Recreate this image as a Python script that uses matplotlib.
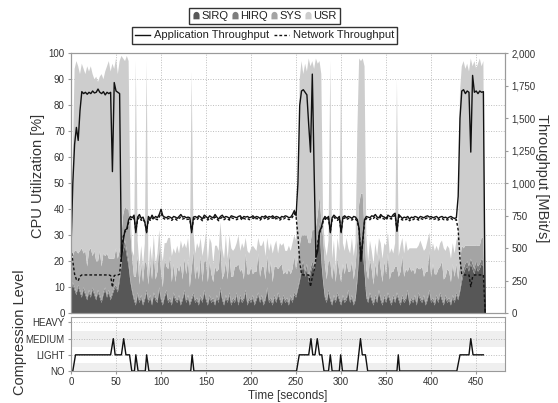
import numpy as np
import matplotlib
matplotlib.use("Agg")
import matplotlib.pyplot as plt
from matplotlib.lines import Line2D
from matplotlib.path import Path
from matplotlib.ticker import FuncFormatter

plt.rcParams['font.family'] = ['Liberation Sans', 'DejaVu Sans']

# ---------------- data ----------------
time_s = np.arange(0, 461, 2)

cpu_labels = ['SIRQ', 'HIRQ', 'SYS', 'USR']
cpu_colors = ['#575757', '#7d7d7d', '#a4a4a4', '#cdcdcd']

sirq = [
    8, 11, 9, 7, 10, 8, 6, 9, 7, 5,
    8, 6, 9, 7, 5, 8, 6, 4, 7, 9,
    6, 8, 5, 7, 9, 10, 8, 12, 18, 24,
    26, 22, 18, 12, 8, 5, 3, 7, 4, 6,
    3, 5, 8, 4, 6, 3, 7, 5, 4, 9,
    5, 3, 6, 8, 4, 5, 3, 7, 5, 4,
    6, 3, 5, 8, 4, 6, 3, 5, 7, 4,
    5, 3, 6, 4, 8, 5, 3, 6, 4, 5,
    3, 6, 4, 9, 5, 3, 6, 4, 7, 3,
    5, 4, 7, 3, 6, 4, 5, 8, 3, 5,
    4, 6, 3, 5, 7, 4, 6, 3, 5, 9,
    4, 5, 3, 6, 4, 7, 5, 3, 6, 4,
    5, 3, 6, 4, 7, 6, 9, 12, 16, 18,
    14, 17, 12, 15, 18, 16, 20, 28, 33, 20,
    12, 6, 4, 8, 5, 3, 6, 4, 7, 5,
    3, 6, 4, 5, 8, 4, 6, 3, 5, 12,
    22, 28, 24, 16, 6, 4, 7, 5, 3, 6,
    4, 8, 5, 3, 6, 4, 7, 5, 3, 6,
    4, 7, 5, 3, 6, 4, 5, 8, 3, 5,
    4, 6, 3, 7, 5, 4, 6, 3, 5, 8,
    4, 5, 3, 6, 4, 7, 5, 3, 6, 4,
    5, 3, 6, 4, 7, 5, 8, 12, 15, 17,
    18, 16, 19, 17, 15, 18, 16, 17, 19, 18,
    0]

hirq = [
    1, 1, 1, 1, 1, 1, 1, 1, 1, 1,
    1, 1, 1, 1, 1, 1, 1, 1, 1, 1,
    1, 1, 1, 1, 1, 1, 1, 2, 2, 2,
    2, 2, 2, 1, 1, 1, 1, 1, 1, 1,
    1, 1, 1, 1, 1, 1, 1, 1, 1, 1,
    1, 1, 1, 1, 1, 1, 1, 1, 1, 1,
    1, 1, 1, 1, 1, 1, 1, 1, 1, 1,
    1, 1, 1, 1, 1, 1, 1, 1, 1, 1,
    1, 1, 1, 1, 1, 1, 1, 1, 1, 1,
    1, 1, 1, 1, 1, 1, 1, 1, 1, 1,
    1, 1, 1, 1, 1, 1, 1, 1, 1, 1,
    1, 1, 1, 1, 1, 1, 1, 1, 1, 1,
    1, 1, 1, 1, 1, 1, 1, 1, 2, 2,
    2, 2, 2, 2, 2, 2, 2, 2, 2, 2,
    1, 1, 1, 1, 1, 1, 1, 1, 1, 1,
    1, 1, 1, 1, 1, 1, 1, 1, 1, 2,
    2, 2, 2, 1, 1, 1, 1, 1, 1, 1,
    1, 1, 1, 1, 1, 1, 1, 1, 1, 1,
    1, 1, 1, 1, 1, 1, 1, 1, 1, 1,
    1, 1, 1, 1, 1, 1, 1, 1, 1, 1,
    1, 1, 1, 1, 1, 1, 1, 1, 1, 1,
    1, 1, 1, 1, 1, 1, 1, 2, 2, 2,
    2, 2, 2, 2, 2, 2, 2, 2, 2, 2,
    0]

sys_ = [
    6, 10, 14, 16, 12, 15, 18, 13, 16, 12,
    15, 18, 12, 16, 14, 11, 17, 13, 15, 12,
    16, 12, 15, 13, 11, 14, 12, 10, 10, 12,
    13, 16, 20, 18, 12, 8, 10, 14, 6, 12,
    8, 14, 10, 6, 13, 9, 15, 7, 11, 16,
    10, 6, 14, 9, 12, 16, 8, 11, 6, 13,
    9, 15, 7, 12, 10, 14, 6, 11, 16, 8,
    12, 9, 15, 7, 11, 14, 8, 13, 10, 6,
    14, 9, 12, 16, 7, 11, 13, 8, 15, 10,
    8, 13, 10, 15, 9, 12, 7, 14, 11, 9,
    13, 8, 12, 10, 15, 9, 11, 14, 7, 12,
    10, 14, 8, 11, 13, 9, 12, 15, 8, 11,
    9, 13, 8, 12, 14, 10, 11, 13, 12, 10,
    14, 11, 13, 10, 12, 14, 11, 8, 10, 14,
    16, 12, 8, 11, 14, 9, 12, 7, 13, 10,
    8, 12, 10, 14, 7, 11, 13, 9, 12, 14,
    18, 16, 20, 14, 10, 8, 13, 11, 7, 12,
    9, 14, 11, 8, 13, 10, 15, 7, 12, 9,
    13, 10, 8, 12, 15, 9, 11, 7, 14, 10,
    12, 8, 14, 9, 11, 13, 7, 12, 10, 15,
    9, 13, 11, 8, 12, 10, 14, 9, 7, 12,
    10, 8, 12, 9, 11, 7, 10, 12, 8, 7,
    6, 8, 5, 7, 9, 6, 8, 7, 8, 9,
    0]

usr = [
    5, 38, 70, 73, 72, 68, 71, 71, 68, 77,
    69, 70, 70, 66, 71, 69, 67, 74, 67, 71,
    72, 76, 72, 75, 73, 73, 71, 73, 69, 60,
    56, 59, 57, 9, 3, 8, 83, 6, 7, 7,
    6, 7, 78, 5, 6, 7, 7, 6, 7, 6,
    8, 10, 6, 9, 12, 7, 10, 6, 11, 8,
    7, 9, 12, 6, 10, 8, 11, 76, 7, 10,
    9, 12, 7, 10, 6, 11, 8, 9, 12, 7,
    8, 10, 7, 9, 12, 6, 10, 8, 7, 11,
    10, 7, 9, 11, 8, 10, 12, 6, 9, 8,
    7, 11, 9, 8, 6, 12, 8, 10, 9, 7,
    9, 7, 11, 8, 10, 6, 9, 7, 12, 8,
    9, 9, 9, 10, 8, 11, 24, 64, 67, 62,
    66, 63, 71, 68, 65, 62, 65, 58, 52, 56,
    7, 7, 9, 8, 77, 8, 9, 6, 8, 8,
    83, 8, 9, 9, 9, 7, 9, 9, 9, 42,
    56, 51, 52, 64, 13, 7, 7, 7, 8, 8,
    8, 6, 10, 9, 7, 11, 8, 10, 9, 7,
    9, 72, 8, 10, 7, 9, 11, 8, 7, 9,
    8, 10, 7, 9, 11, 8, 10, 9, 12, 7,
    10, 8, 9, 11, 7, 9, 8, 12, 10, 9,
    9, 9, 8, 9, 9, 17, 66, 69, 72, 68,
    70, 67, 72, 69, 71, 68, 70, 72, 66, 68,
    0]

app_tp = [
    500, 1000, 1300, 1430, 1330, 1560, 1705, 1690, 1700, 1685,
    1700, 1690, 1710, 1695, 1700, 1725, 1700, 1690, 1705, 1680,
    1700, 1690, 1700, 1090, 1775, 1710, 1700, 1690, 400, 560,
    640, 650, 720, 745, 735, 755, 620, 740, 760, 730,
    740, 700, 620, 745, 725, 755, 730, 745, 735, 760,
    800, 750, 740, 735, 745, 740, 730, 745, 740, 730,
    745, 760, 740, 745, 735, 740, 735, 620, 740, 745,
    735, 750, 740, 725, 755, 745, 730, 750, 740, 735,
    760, 740, 725, 745, 755, 735, 745, 740, 730, 750,
    745, 740, 735, 745, 750, 730, 745, 740, 745, 735,
    740, 750, 735, 745, 740, 730, 745, 740, 750, 735,
    745, 740, 750, 735, 745, 740, 730, 745, 740, 750,
    745, 735, 740, 760, 790, 750, 1000, 1600, 1710, 1720,
    1700, 1680, 1450, 1240, 1840, 1100, 430, 480, 630, 660,
    720, 745, 730, 745, 620, 735, 755, 740, 730, 745,
    620, 740, 750, 735, 745, 740, 730, 745, 740, 720,
    650, 400, 560, 720, 745, 740, 735, 750, 745, 760,
    740, 735, 760, 745, 740, 730, 755, 745, 740, 760,
    770, 630, 760, 745, 730, 740, 735, 745, 725, 740,
    735, 745, 740, 730, 745, 740, 735, 745, 750, 740,
    745, 735, 740, 745, 730, 740, 745, 735, 740, 730,
    740, 745, 735, 730, 735, 900, 1500, 1710, 1720, 1690,
    1710, 1700, 1240, 1830, 1700, 1710, 1690, 1710, 1700, 1705,
    0]

net_tp = [
    500, 400, 300, 260, 250, 285, 295, 295, 295, 295,
    295, 295, 295, 295, 295, 295, 295, 295, 295, 295,
    295, 295, 290, 200, 290, 295, 295, 300, 450, 590,
    630, 640, 700, 725, 720, 735, 640, 720, 740, 715,
    725, 700, 630, 725, 715, 735, 720, 725, 720, 740,
    770, 735, 725, 720, 730, 725, 715, 730, 725, 715,
    730, 740, 725, 730, 720, 725, 720, 640, 720, 730,
    720, 735, 725, 712, 738, 730, 717, 735, 725, 720,
    742, 725, 712, 730, 738, 720, 730, 725, 717, 735,
    730, 725, 720, 730, 735, 717, 730, 725, 730, 720,
    725, 735, 720, 730, 725, 717, 730, 725, 735, 720,
    730, 725, 735, 720, 730, 725, 717, 730, 725, 735,
    730, 720, 725, 740, 770, 740, 600, 400, 300, 295,
    295, 295, 295, 205, 280, 330, 420, 540, 620, 650,
    705, 730, 715, 730, 630, 720, 740, 725, 715, 730,
    630, 725, 735, 720, 730, 725, 717, 730, 725, 705,
    640, 410, 550, 705, 730, 725, 720, 735, 730, 745,
    725, 720, 745, 730, 725, 717, 740, 730, 725, 745,
    752, 640, 745, 730, 717, 725, 720, 730, 712, 725,
    720, 730, 725, 717, 730, 725, 720, 730, 735, 725,
    730, 720, 725, 730, 717, 725, 730, 720, 725, 717,
    725, 730, 720, 717, 720, 640, 420, 300, 295, 295,
    295, 295, 205, 280, 295, 295, 295, 295, 295, 295,
    0]

comp_t = [2, 5, 44, 47, 49, 56, 58.5, 61, 65, 67.5, 70.5, 72, 74.5,
          82.5, 84, 86.5, 133, 134.5, 136.5, 250.5, 253.5, 264, 266.5,
          268.5, 271, 273.5, 276, 278.5, 281, 286, 288, 290, 298, 299.5,
          301.5, 317.5, 319.5, 321.5, 323.5, 327, 329.5, 362, 363.5, 365,
          428.5, 432, 442, 444, 446.5, 458]
comp_lv = [0, 1, 1, 2, 1, 1, 2, 1, 1, 0, 0, 1, 0,
           0, 1, 0, 0, 1, 0, 0, 1, 1, 2,
           1, 1, 2, 1, 1, 0, 0, 1, 0, 0, 1,
           0, 0, 1, 2, 1, 1, 0, 0, 1, 0,
           0, 1, 1, 2, 1, 1]
comp_names = ['NO', 'LIGHT', 'MEDIUM', 'HEAVY']

# ---------------- figure ----------------
W, H = 558, 403
fig = plt.figure(figsize=(W / 100, H / 100), dpi=100)
ax = fig.add_axes([71 / W, (H - 313.3) / H, 434 / W, 260 / H])
axl = fig.add_axes([71 / W, (H - 371) / H, 434 / W, 54 / H])

spine_c = '#9a9a9a'
txt_c = '#333333'
grid_kw = dict(color='#bdbdbd', lw=0.7, ls=(0, (1, 1.6)))
vlab = 10.5

ax.stackplot(time_s, sirq, hirq, sys_, usr, colors=cpu_colors,
             linewidth=0, antialiased=True)
ax.set_xlim(0, 482)
ax.set_ylim(0, 100)
ax.set_yticks(range(0, 101, 10))
ax.set_xticks(range(0, 451, 50))
ax.tick_params(axis='x', length=0, labelbottom=False)
ax.tick_params(axis='y', labelsize=7, length=2.5, color=spine_c,
               labelcolor=txt_c, pad=2)
ax.grid(True, **grid_kw)
ax.set_axisbelow(True)
ax.set_ylabel('CPU Utilization [%]', fontsize=vlab, color=txt_c,
              ha='center', va='center')
ax.yaxis.set_label_coords(-0.075, 0.53)

ax2 = ax.twinx()
ax2.plot(time_s, app_tp, color='#111111', lw=1.0)
ax2.plot(time_s, net_tp, color='#111111', lw=1.0, ls=(0, (2, 1.5)))
ax2.set_ylim(0, 2000)
ax2.set_yticks(range(0, 2001, 250))
ax2.yaxis.set_major_formatter(FuncFormatter(lambda v, p: f'{int(v):,}'))
ax2.tick_params(axis='y', labelsize=7, length=2.5, color=spine_c,
                labelcolor=txt_c, pad=2)
ax2.set_ylabel('Throughput [MBit/s]', fontsize=vlab, color=txt_c,
               rotation=270, ha='center', va='center')
ax2.yaxis.set_label_coords(1.085, 0.52)

for a in (ax, ax2, axl):
    for s in a.spines.values():
        s.set_color(spine_c)
        s.set_linewidth(0.8)

# lower panel: compression level
axl.axhspan(-0.5, 0.5, color='#efefef', lw=0, zorder=0)
axl.axhspan(1.5, 2.5, color='#efefef', lw=0, zorder=0)
axl.plot(comp_t, comp_lv, color='#111111', lw=1.0, zorder=3)
axl.set_xlim(0, 482)
axl.set_ylim(0, 3.34)
axl.set_yticks(range(len(comp_names)))
axl.set_yticklabels(comp_names)
axl.set_xticks(range(0, 451, 50))
axl.grid(True, **grid_kw)
axl.set_axisbelow(True)
axl.tick_params(labelsize=7, length=2.5, color=spine_c, labelcolor=txt_c,
                pad=2)
axl.set_xlabel('Time [seconds]', fontsize=8.5, color=txt_c, labelpad=2)
axl.set_ylabel('Compression Level', fontsize=vlab, color=txt_c,
               ha='center', va='center')
axl.yaxis.set_label_coords(-0.118, 0.72)

# legends
ang = np.linspace(0, np.pi, 16)
bell_v = [(-0.8, -1.0), (0.8, -1.0)] + [(0.8 * np.cos(a), 0.05 + 0.9 * np.sin(a)) for a in ang]
bell_v.append((-0.8, -1.0))
bell = Path(bell_v, closed=True)

h1 = [Line2D([], [], ls='none', marker=bell, markersize=5.5, color=c,
             markeredgewidth=0) for c in cpu_colors]
leg1 = fig.legend(h1, cpu_labels, loc='center', ncol=4,
                  bbox_to_anchor=(264.5 / W, (H - 16) / H), fontsize=8,
                  handlelength=0.6, handletextpad=0.15, columnspacing=0.3,
                  borderpad=0.3, frameon=True, fancybox=False)
h2 = [Line2D([], [], color='#111111', lw=1.0),
      Line2D([], [], color='#111111', lw=1.0, ls=(0, (2, 1.5)))]
leg2 = fig.legend(h2, ['Application Throughput', 'Network Throughput'],
                  loc='center', ncol=2,
                  bbox_to_anchor=(264.5 / W, (H - 35.5) / H), fontsize=8,
                  handlelength=1.3, handletextpad=0.35, columnspacing=0.5,
                  borderpad=0.3, frameon=True, fancybox=False)
for lg in (leg1, leg2):
    fr = lg.get_frame()
    fr.set_edgecolor('#333333')
    fr.set_linewidth(1.0)
    fr.set_alpha(1)
    for t in lg.get_texts():
        t.set_color('#222222')

fig.savefig('out.png', dpi=100)
